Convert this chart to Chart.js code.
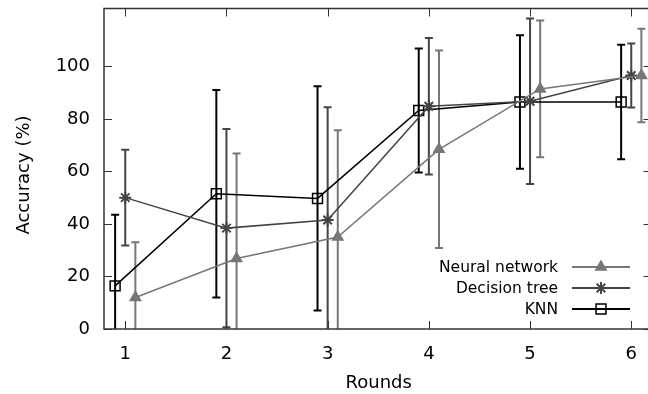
<!DOCTYPE html>
<html>
<head>
<meta charset="utf-8">
<script src="https://cdn.jsdelivr.net/npm/chart.js@4.4.1/dist/chart.umd.min.js"></script>
<style>
  html, body { margin: 0; padding: 0; background: #fff; overflow: hidden; }
  #wrap { width: 660px; height: 394px; }
</style>
</head>
<body>
<div id="wrap"><canvas id="chart" width="660" height="394"></canvas></div>
<script>
// data
const rounds = [1, 2, 3, 4, 5, 6];
const nnMean = [12, 26.8, 35, 68.4, 91.4, 96.5];
const nnErr  = [21, 40, 40.7, 37.6, 26, 17.8];
const dtMean = [50, 38.4, 41.5, 84.8, 86.7, 96.5];
const dtErr  = [18.2, 37.7, 42.9, 26, 31.5, 12.2];
const knnMean = [16.4, 51.5, 49.7, 83.2, 86.4, 86.4];
const knnErr  = [27.1, 39.5, 42.7, 23.6, 25.4, 21.8];
const xTicks = [1, 2, 3, 4, 5, 6];
const yTicks = [0, 20, 40, 60, 80, 100];

const FONT = "'DejaVu Sans', sans-serif";

// series are nudged sideways so the error bars don't overlap
function series(label, mean, err, shift, color, style, radius) {
  return {
    label,
    data: rounds.map((r, i) => ({ x: r + shift, y: mean[i] })),
    errors: err,
    showLine: true,
    borderColor: color,
    borderWidth: 1.5,
    pointStyle: style,
    pointRadius: radius,
    pointHoverRadius: radius,
    pointBorderWidth: style === 'star' ? 2 : 1.5,
    pointBorderColor: color,
    pointBackgroundColor: style === 'rect' ? 'rgba(0,0,0,0)' : color,
    tension: 0
  };
}

const datasets = [
  series('Neural network', nnMean, nnErr, 0.1, '#777777', 'triangle', 6),
  series('Decision tree', dtMean, dtErr, 0, '#444444', 'star', 6),
  series('KNN', knnMean, knnErr, -0.1, '#000000', 'rect', 7)
];

const gnuplotLook = {
  id: 'gnuplotLook',
  beforeDatasetsDraw(chart) {
    const { ctx, chartArea: a } = chart;
    const xs = chart.scales.x, ys = chart.scales.y;
    ctx.save();
    ctx.beginPath();
    ctx.rect(a.left, a.top, a.right - a.left, a.bottom - a.top);
    ctx.clip();
    chart.data.datasets.forEach(ds => {
      ctx.strokeStyle = ds.borderColor;
      ctx.lineWidth = 2;
      ds.data.forEach((p, i) => {
        const x = xs.getPixelForValue(p.x);
        const hi = ys.getPixelForValue(p.y + ds.errors[i]);
        const lo = ys.getPixelForValue(p.y - ds.errors[i]);
        ctx.beginPath();
        ctx.moveTo(x, hi); ctx.lineTo(x, lo);
        ctx.moveTo(x - 4, hi); ctx.lineTo(x + 4, hi);
        ctx.moveTo(x - 4, lo); ctx.lineTo(x + 4, lo);
        ctx.stroke();
      });
    });
    ctx.restore();
  },
  afterDraw(chart) {
    const { ctx, chartArea: a } = chart;
    const xs = chart.scales.x, ys = chart.scales.y;
    ctx.save();
    // frame + inward ticks
    ctx.strokeStyle = '#333';
    ctx.lineWidth = 1.5;
    ctx.strokeRect(a.left, a.top, a.right - a.left, a.bottom - a.top);
    ctx.lineWidth = 1;
    ctx.beginPath();
    xTicks.forEach(v => {
      const x = Math.round(xs.getPixelForValue(v)) + 0.5;
      ctx.moveTo(x, a.bottom); ctx.lineTo(x, a.bottom - 8);
      ctx.moveTo(x, a.top); ctx.lineTo(x, a.top + 8);
    });
    yTicks.forEach(v => {
      const y = Math.round(ys.getPixelForValue(v)) + 0.5;
      ctx.moveTo(a.left, y); ctx.lineTo(a.left + 8, y);
      ctx.moveTo(a.right, y); ctx.lineTo(a.right - 8, y);
    });
    ctx.stroke();

    // axis titles
    ctx.fillStyle = '#000';
    ctx.font = '18px ' + FONT;
    ctx.textAlign = 'center';
    ctx.textBaseline = 'alphabetic';
    ctx.fillText('Rounds', (a.left + a.right) / 2 + 1, 388);
    ctx.save();
    ctx.translate(29, 175);
    ctx.rotate(-Math.PI / 2);
    ctx.fillText('Accuracy (%)', 0, 0);
    ctx.restore();

    // legend, gnuplot style: text on the left, sample on the right
    ctx.font = '15.5px ' + FONT;
    ctx.textAlign = 'right';
    ctx.textBaseline = 'middle';
    chart.data.datasets.forEach((ds, i) => {
      const y = 267 + i * 21;
      ctx.fillStyle = '#000';
      ctx.fillText(ds.label, 558, y + 1);
      ctx.strokeStyle = ds.borderColor;
      ctx.lineWidth = 2;
      ctx.beginPath();
      ctx.moveTo(572, y); ctx.lineTo(630, y);
      ctx.stroke();
      ctx.fillStyle = ds.pointBackgroundColor;
      ctx.lineWidth = ds.pointBorderWidth;
      Chart.helpers.drawPoint(ctx, {
        pointStyle: ds.pointStyle, radius: ds.pointRadius, rotation: 0, borderWidth: ds.pointBorderWidth
      }, 601, y);
    });
    ctx.restore();
  }
};

new Chart(document.getElementById('chart'), {
  type: 'scatter',
  data: { datasets },
  options: {
    responsive: false,
    animation: false,
    devicePixelRatio: 1,
    layout: { padding: { left: 0, top: 8, right: 7, bottom: 0 } },
    plugins: { legend: { display: false }, tooltip: { enabled: false } },
    scales: {
      x: {
        type: 'linear',
        min: 0.79,
        max: 6.2,
        grid: { display: false },
        border: { display: false },
        afterBuildTicks: s => { s.ticks = xTicks.map(v => ({ value: v })); },
        afterFit: s => { s.height = 65; s.paddingLeft = 0; s.paddingRight = 0; },
        ticks: { color: '#000', padding: 7, font: { family: FONT, size: 18 } }
      },
      y: {
        type: 'linear',
        min: 0,
        max: 122,
        grid: { display: false },
        border: { display: false },
        afterBuildTicks: s => { s.ticks = yTicks.map(v => ({ value: v })); },
        afterFit: s => { s.width = 104; s.paddingTop = 0; s.paddingBottom = 0; },
        ticks: { color: '#000', padding: 6, font: { family: FONT, size: 18 } }
      }
    }
  },
  plugins: [gnuplotLook]
});
</script>
</body>
</html>
